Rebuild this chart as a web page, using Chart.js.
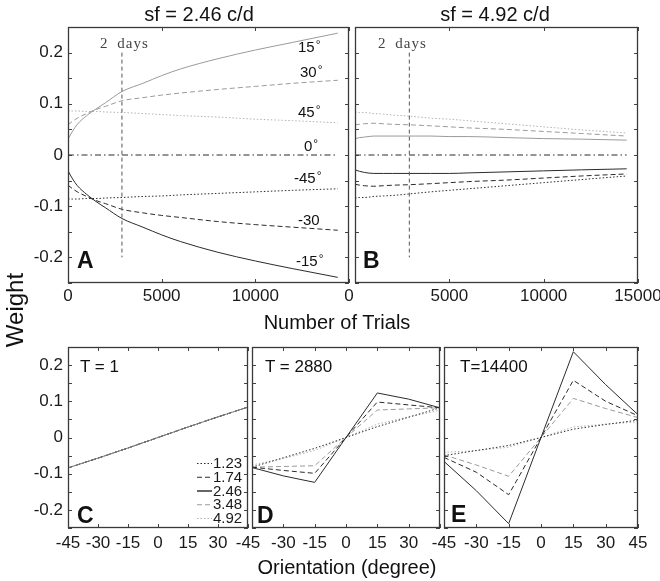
<!DOCTYPE html>
<html>
<head>
<meta charset="utf-8">
<script src="https://cdn.jsdelivr.net/npm/chart.js@4.4.0/dist/chart.umd.min.js"></script>
<style>
  html, body { margin: 0; padding: 0; background: #fff; }
  #fig { position: relative; width: 660px; height: 581px; overflow: hidden;
         font-family: "Liberation Sans", Arial, sans-serif; color: #111; }
  #fig canvas { position: absolute; left: 0; top: 0; width: 700px; height: 581px; }
  .lbl { position: absolute; white-space: nowrap; line-height: 1; }
  .deg { font-size: 12px; vertical-align: 3px; margin-left: 1px; }
</style>
</head>
<body>
<div id="fig">
  <canvas id="chartA" width="700" height="581"></canvas>
  <canvas id="chartB" width="700" height="581"></canvas>
  <canvas id="chartC" width="700" height="581"></canvas>
  <canvas id="chartD" width="700" height="581"></canvas>
  <canvas id="chartE" width="700" height="581"></canvas>
</div>
<script>
// ---- data ----
const trials = [0, 250, 500, 1000, 1500, 2000, 2880, 4000, 5000, 6000, 8000, 10000, 12000, 14400];
const markerTrial = 2880;          // "2 days"
const markerSpan = [0.2, -0.2];

// panel A, sf = 2.46 c/d, weight per orientation
const wA_p15 = [0.031, 0.047, 0.060, 0.077, 0.090, 0.102, 0.124, 0.140, 0.155, 0.168, 0.188, 0.205, 0.220, 0.238];
const wA_p30 = [0.059, 0.066, 0.072, 0.081, 0.089, 0.095, 0.106, 0.112, 0.117, 0.121, 0.128, 0.134, 0.140, 0.146];
const wA_p45 = [0.086, 0.086, 0.086, 0.085, 0.085, 0.084, 0.083, 0.081, 0.079, 0.077, 0.074, 0.070, 0.067, 0.063];
const wA_0   = [0, 0, 0, 0, 0, 0, 0, 0, 0, 0, 0, 0, 0, 0];
const wA_m45 = [-0.086, -0.086, -0.086, -0.085, -0.085, -0.084, -0.083, -0.081, -0.080, -0.078, -0.075, -0.072, -0.069, -0.066];
const wA_m30 = [-0.059, -0.066, -0.072, -0.081, -0.089, -0.095, -0.106, -0.113, -0.118, -0.122, -0.130, -0.136, -0.141, -0.147];
const wA_m15 = [-0.031, -0.047, -0.060, -0.077, -0.091, -0.103, -0.124, -0.141, -0.156, -0.169, -0.190, -0.207, -0.222, -0.239];

// panel B, sf = 4.92 c/d
const wB_p45 = [0.084, 0.083, 0.083, 0.081, 0.080, 0.078, 0.076, 0.072, 0.070, 0.067, 0.061, 0.055, 0.049, 0.043];
const wB_p30 = [0.059, 0.060, 0.061, 0.062, 0.061, 0.060, 0.059, 0.057, 0.055, 0.053, 0.050, 0.046, 0.042, 0.037];
const wB_p15 = [0.032, 0.034, 0.035, 0.037, 0.037, 0.037, 0.037, 0.037, 0.036, 0.036, 0.034, 0.032, 0.031, 0.029];
const wB_0   = [0, 0, 0, 0, 0, 0, 0, 0, 0, 0, 0, 0, 0, 0];
const wB_m15 = [-0.029, -0.032, -0.034, -0.036, -0.036, -0.036, -0.036, -0.036, -0.036, -0.035, -0.033, -0.031, -0.029, -0.027];
const wB_m30 = [-0.057, -0.059, -0.060, -0.061, -0.060, -0.059, -0.058, -0.056, -0.054, -0.052, -0.049, -0.045, -0.041, -0.037];
const wB_m45 = [-0.084, -0.083, -0.083, -0.081, -0.080, -0.079, -0.076, -0.072, -0.069, -0.066, -0.060, -0.054, -0.048, -0.041];

// panels C-E, weight profile over orientation for each sf
const orientations = [-45, -30, -15, 0, 15, 30, 45];
const sfLabels = ['1.23', '1.74', '2.46', '3.48', '4.92'];
const wT1 = [-0.084, -0.057, -0.029, 0, 0.029, 0.057, 0.084];   // identical for all sf at T = 1
const w2880_123 = [-0.082, -0.056, -0.030, 0, 0.030, 0.056, 0.082];
const w2880_174 = [-0.082, -0.091, -0.099, 0, 0.098, 0.090, 0.082];
const w2880_246 = [-0.083, -0.106, -0.124, 0, 0.123, 0.106, 0.082];
const w2880_348 = [-0.082, -0.080, -0.078, 0, 0.076, 0.079, 0.082];
const w2880_492 = [-0.076, -0.058, -0.036, 0, 0.037, 0.057, 0.075];
const w14400_123 = [-0.050, -0.036, -0.022, 0, 0.023, 0.036, 0.048];
const w14400_174 = [-0.055, -0.096, -0.158, 0, 0.158, 0.100, 0.060];
const w14400_246 = [-0.066, -0.147, -0.238, 0, 0.237, 0.146, 0.063];
const w14400_348 = [-0.048, -0.076, -0.107, 0, 0.108, 0.080, 0.055];
const w14400_492 = [-0.041, -0.036, -0.027, 0, 0.029, 0.037, 0.043];

// ---- styles ----
const DARK = '#2b2b2b', LIGHT = '#9a9a9a', LIGHTER = '#b2b2b2';
const SOLID = [], DOT = [1.5, 2], DASH = [5, 3], DASHDOT = [6, 3, 1.5, 3];
const FIG_W = 700, FIG_H = 581;

Chart.defaults.font.family = "'Liberation Sans', Arial, sans-serif";
Chart.defaults.color = '#1a1a1a';

function pts(xs, ys) {
  return xs.map((x, i) => ({ x: x, y: ys[i] }));
}

function line(label, xs, ys, color, dash, extra) {
  return Object.assign({
    label: label,
    data: pts(xs, ys),
    borderColor: color,
    borderDash: dash,
    borderWidth: 1,
    pointRadius: 0,
    fill: false
  }, extra || {});
}

function weightLabel(value) {
  const v = Math.round(value * 100) / 100;
  if (Math.abs(v) > 0.2001) return '';
  if (Math.round(v * 100) % 10 !== 0) return '';
  return v === 0 ? '0' : v.toFixed(1);
}

// box round the plot area plus MATLAB-style inward ticks on all four sides
const frame = {
  id: 'frame',
  afterDatasetsDraw(chart) {
    const { ctx, chartArea: a, scales } = chart;
    const len = 4;
    ctx.save();
    ctx.strokeStyle = '#444';
    ctx.lineWidth = 1;
    ctx.beginPath();
    scales.x.ticks.forEach(t => {
      const px = Math.round(scales.x.getPixelForValue(t.value)) + 0.5;
      ctx.moveTo(px, a.bottom); ctx.lineTo(px, a.bottom - len);
      ctx.moveTo(px, a.top); ctx.lineTo(px, a.top + len);
    });
    scales.y.ticks.forEach(t => {
      const py = Math.round(scales.y.getPixelForValue(t.value)) + 0.5;
      ctx.moveTo(a.left, py); ctx.lineTo(a.left + len, py);
      ctx.moveTo(a.right, py); ctx.lineTo(a.right - len, py);
    });
    ctx.stroke();
    ctx.lineWidth = 1.3;
    ctx.strokeStyle = '#3a3a3a';
    ctx.strokeRect(a.left + 0.5, a.top + 0.5, a.width - 1, a.height - 1);
    ctx.restore();
  }
};

// small legend in the lower right of panel C
const sfLegend = {
  id: 'sfLegend',
  afterDraw(chart) {
    const { ctx, chartArea: a } = chart;
    ctx.save();
    ctx.font = "15px 'Liberation Sans', Arial, sans-serif";
    ctx.fillStyle = '#1a1a1a';
    ctx.textBaseline = 'middle';
    sfLabels.forEach((lab, i) => {
      const d = chart.data.datasets.find(s => s.label === lab);
      const y = a.bottom - 65 + i * 13.75;
      ctx.strokeStyle = d.legendColor || d.borderColor;
      ctx.lineWidth = d.legendWidth || 1;
      ctx.setLineDash(d.borderDash);
      ctx.beginPath();
      ctx.moveTo(a.right - 51, y + 0.5);
      ctx.lineTo(a.right - 36, y + 0.5);
      ctx.stroke();
      ctx.setLineDash([]);
      ctx.fillText(lab, a.right - 35, y + 1);
    });
    ctx.restore();
  }
};

function makeChart(id, area, datasets, xCfg, showY, extraPlugins) {
  const yW = showY ? 40 : 0;
  const xH = 30;
  return new Chart(document.getElementById(id), {
    type: 'line',
    data: { datasets: datasets },
    options: {
      responsive: false,
      animation: false,
      devicePixelRatio: 1,
      layout: {
        padding: {
          left: area.left - yW,
          top: area.top,
          right: FIG_W - area.right,
          bottom: FIG_H - area.bottom - xH
        }
      },
      plugins: { legend: { display: false }, tooltip: { enabled: false } },
      scales: {
        x: {
          type: 'linear',
          min: xCfg.min,
          max: xCfg.max,
          grid: { display: false, drawTicks: false },
          border: { display: false },
          ticks: {
            stepSize: xCfg.step,
            autoSkip: false,
            maxRotation: 0,
            padding: xCfg.pad,
            font: { size: 17 },
            callback: xCfg.label
          },
          afterFit: s => { s.height = xH; }
        },
        y: {
          min: -0.25,
          max: 0.25,
          grid: { display: false, drawTicks: false },
          border: { display: false },
          ticks: {
            display: showY,
            autoSkip: false,
            stepSize: 0.05,
            padding: 5,
            font: { size: 17 },
            callback: weightLabel
          },
          afterFit: s => { s.width = yW; }
        }
      }
    },
    plugins: [frame].concat(extraPlugins || [])
  });
}

const smooth = { cubicInterpolationMode: 'monotone' };
const markerLine = line('2 days', [markerTrial, markerTrial], markerSpan, '#555', [4, 3]);

// Panel A
makeChart('chartA', { left: 68, top: 27, right: 349, bottom: 283 }, [
  markerLine,
  line('15', trials, wA_p15, LIGHT, SOLID, smooth),
  line('30', trials, wA_p30, LIGHT, DASH, smooth),
  line('45', trials, wA_p45, LIGHTER, DOT, smooth),
  line('0', trials, wA_0, DARK, DASHDOT),
  line('-45', trials, wA_m45, DARK, DOT, smooth),
  line('-30', trials, wA_m30, DARK, DASH, smooth),
  line('-15', trials, wA_m15, DARK, SOLID, smooth)
], { min: 0, max: 15000, step: 5000, pad: 3,
     label: v => (v === 15000 ? '0' : String(v)) }, true);

// Panel B
makeChart('chartB', { left: 355, top: 27, right: 638, bottom: 283 }, [
  markerLine,
  line('45', trials, wB_p45, LIGHTER, DOT, smooth),
  line('30', trials, wB_p30, LIGHT, DASH, smooth),
  line('15', trials, wB_p15, LIGHT, SOLID, smooth),
  line('0', trials, wB_0, DARK, DASHDOT),
  line('-15', trials, wB_m15, DARK, SOLID, smooth),
  line('-30', trials, wB_m30, DARK, DASH, smooth),
  line('-45', trials, wB_m45, DARK, DOT, smooth)
], { min: 0, max: 15000, step: 5000, pad: 3,
     label: v => (v === 0 ? '' : String(v)) }, false);

function sfSet(w123, w174, w246, w348, w492, solidColor) {
  return [
    line('2.46', orientations, w246, solidColor, SOLID, { order: 0, legendColor: '#666', legendWidth: 2 }),
    line('1.23', orientations, w123, DARK, DOT, { order: 1 }),
    line('1.74', orientations, w174, DARK, DASH, { order: 1 }),
    line('3.48', orientations, w348, LIGHT, DASH, { order: 1 }),
    line('4.92', orientations, w492, LIGHTER, DOT, { order: 1 })
  ];
}

// Panel C
makeChart('chartC', { left: 68, top: 347, right: 248, bottom: 528 },
  sfSet(wT1, wT1, wT1, wT1, wT1, '#808080'),
  { min: -45, max: 45, step: 15, pad: 5, label: v => (v === 45 ? '-45' : String(v)) },
  true, [sfLegend]);

// Panel D
makeChart('chartD', { left: 252, top: 347, right: 440, bottom: 528 },
  sfSet(w2880_123, w2880_174, w2880_246, w2880_348, w2880_492, DARK),
  { min: -45, max: 45, step: 15, pad: 5, label: v => (Math.abs(v) === 45 ? '' : String(v)) },
  false);

// Panel E
makeChart('chartE', { left: 444, top: 347, right: 638, bottom: 528 },
  sfSet(w14400_123, w14400_174, w14400_246, w14400_348, w14400_492, DARK),
  { min: -45, max: 45, step: 15, pad: 5, label: v => String(v) },
  false);

// ---- free text (titles, axis names, panel letters, annotations) ----
const fig = document.getElementById('fig');
function addText(html, x, baseline, size, opts) {
  opts = opts || {};
  const el = document.createElement('div');
  el.className = 'lbl';
  el.innerHTML = html;
  el.style.fontSize = size + 'px';
  if (opts.family) el.style.fontFamily = opts.family;
  if (opts.weight) el.style.fontWeight = opts.weight;
  if (opts.color) el.style.color = opts.color;
  if (opts.spacing) el.style.wordSpacing = opts.spacing;
  if (opts.letter) el.style.letterSpacing = opts.letter;
  const asc = opts.serif ? 0.8375 : 0.8465;
  el.style.top = (baseline - size * asc) + 'px';
  el.style.left = x + 'px';
  if (opts.center) el.style.transform = 'translateX(-50%)';
  fig.appendChild(el);
  return el;
}

const deg = '<span class="deg">&deg;</span>';
addText('sf = 2.46 c/d', 199, 21, 20, { center: true });
addText('sf = 4.92 c/d', 495, 21, 20, { center: true });
addText('Number of Trials', 337, 329, 20, { center: true });
addText('Orientation (degree)', 347, 574, 20, { center: true });

// rotated y title, centred on (15, 310)
const w = addText('Weight', 0, 0, 24);
w.style.left = '15px';
w.style.top = '310px';
w.style.transform = 'translate(-50%, -50%) rotate(-90deg)';

const serif = "'Liberation Serif', 'DejaVu Serif', serif";
addText('2 days', 100, 49, 15, { family: serif, serif: true, color: '#444', spacing: '4px', letter: '1px' });
addText('2 days', 378, 49, 15, { family: serif, serif: true, color: '#444', spacing: '4px', letter: '1px' });

addText('15' + deg, 298, 52, 15);
addText('30' + deg, 300, 77, 15);
addText('45' + deg, 298, 117, 15);
addText('0' + deg, 304, 151, 15);
addText('-45' + deg, 294, 183, 15);
addText('-30', 298, 225, 15);
addText('-15' + deg, 296, 266, 15);

addText('T = 1', 80, 372, 17);
addText('T = 2880', 265, 372, 17);
addText('T=14400', 460, 372, 17);

addText('A', 77, 268, 23, { weight: 'bold' });
addText('B', 363, 268, 23, { weight: 'bold' });
addText('C', 77, 523, 23, { weight: 'bold' });
addText('D', 257, 523, 23, { weight: 'bold' });
addText('E', 451, 522, 23, { weight: 'bold' });
</script>
</body>
</html>
